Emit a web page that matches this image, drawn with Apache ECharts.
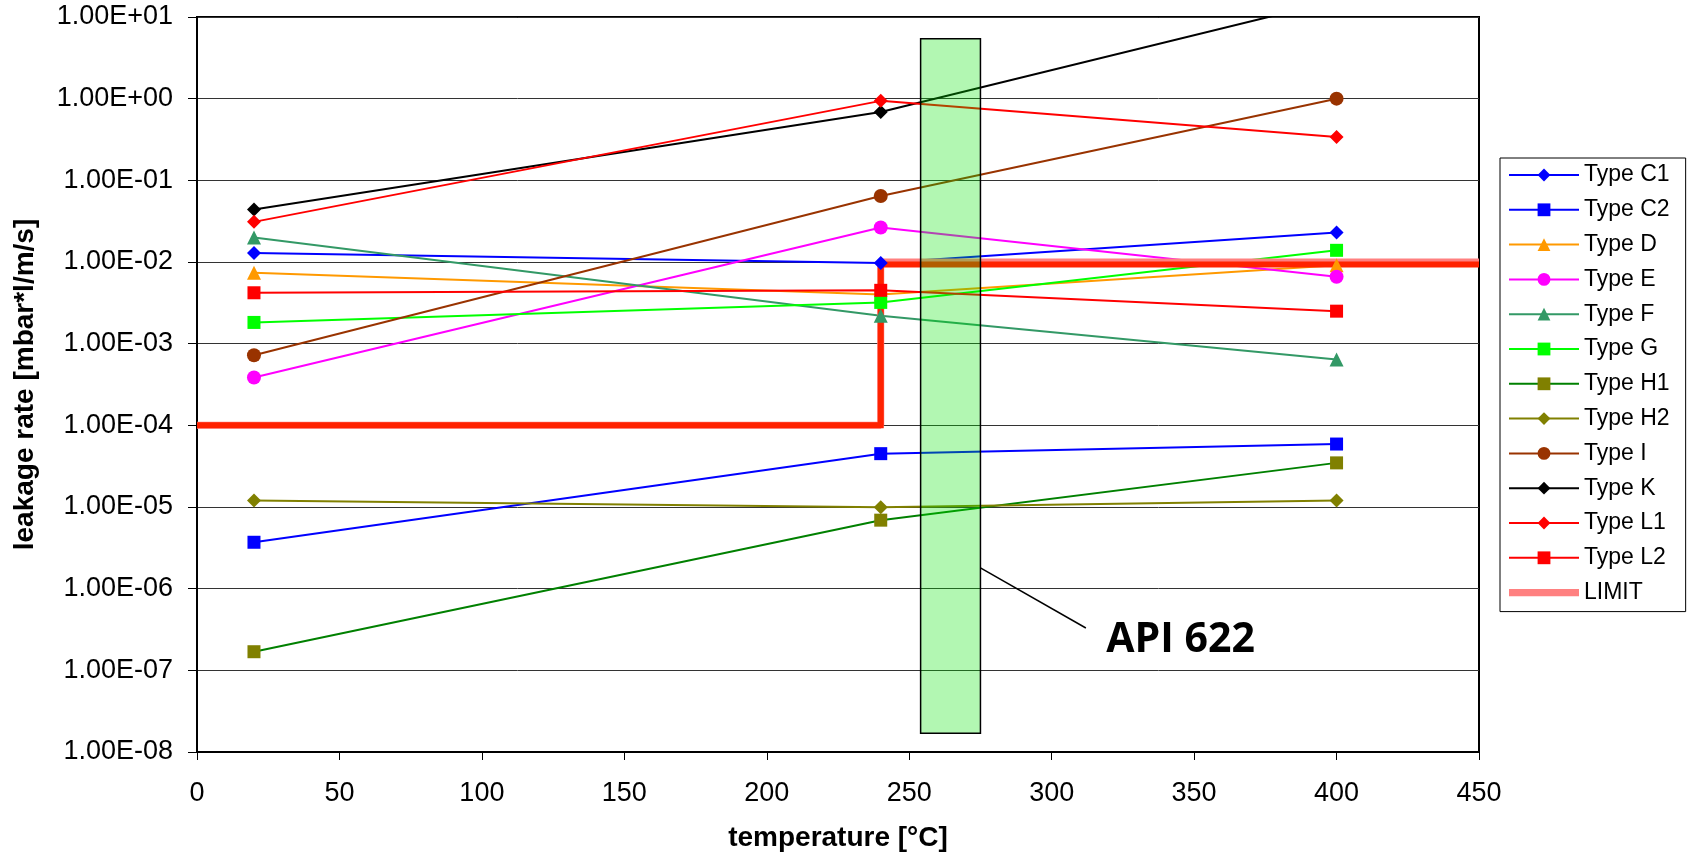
<!DOCTYPE html>
<html>
<head>
<meta charset="utf-8">
<script src="https://cdn.jsdelivr.net/npm/echarts@6/dist/echarts.min.js"></script>
<style>
html, body { margin: 0; padding: 0; background: #fff; }
#chart { width: 1689px; height: 859px; }
</style>
</head>
<body>
<div id="chart"></div>
<script>
// temperatures [°C] and leakage rates [mbar*l/m/s]
var temps = [20, 240, 400];
var typeC1 = [0.0129, 0.0097, 0.023];
var typeC2 = [3.7e-6, 4.5e-5, 5.9e-5];
var typeD = [0.0074, 0.0040, 0.0091];
var typeE = [0.000386, 0.0265, 0.0066];
var typeF = [0.020, 0.0022, 0.00064];
var typeG = [0.00182, 0.0032, 0.0139];
var typeH1 = [1.69e-7, 6.9e-6, 3.47e-5];
var typeH2 = [1.2e-5, 9.9e-6, 1.2e-5];
var typeI = [0.00072, 0.0644, 1.0];
var typeK = [0.044, 0.687, 16];
var typeL1 = [0.031, 0.94, 0.34];
var typeL2 = [0.0042, 0.0045, 0.0025];

// limit (legend series) and the red step drawn over it
var limitT = [0, 240, 240, 450];
var limitV = [1e-4, 1e-4, 1e-2, 1e-2];
var stepV = [1e-4, 1e-4, 0.0093, 0.0093];

// API 622 band: temperature range and rate range
var apiBand = [254, 275];
var apiRange = [1.7e-8, 5.4];
var apiLeader = [275, 1.8e-6, 312, 3.3e-7];
var apiLabelAt = [319, 2.35e-7];

var xTicks = [0, 50, 100, 150, 200, 250, 300, 350, 400, 450];
var yTickLabels = ['1.00E-08', '1.00E-07', '1.00E-06', '1.00E-05', '1.00E-04',
    '1.00E-03', '1.00E-02', '1.00E-01', '1.00E+00', '1.00E+01'];

var FONT = '"Liberation Sans", Arial, sans-serif';

function pts(xs, ys) {
    var out = [];
    for (var i = 0; i < xs.length; i++) out.push([xs[i], ys[i]]);
    return out;
}

function typeSeries(name, vals, lineColor, symbol, size, markColor) {
    return {
        name: name,
        type: 'line',
        data: pts(temps, vals),
        symbol: symbol,
        symbolSize: size,
        lineStyle: { color: lineColor, width: 2 },
        itemStyle: { color: markColor || lineColor },
        clip: true
    };
}

var chart = echarts.init(document.getElementById('chart'));

var option = {
    animation: false,
    backgroundColor: '#fff',
    grid: {
        left: 197, right: 210, top: 17, bottom: 107,
        show: true, borderColor: '#000', borderWidth: 2
    },
    legend: {
        orient: 'vertical',
        left: 1500, top: 158,
        padding: [5, 16, 7, 8],
        itemGap: 10.8,
        itemWidth: 70,
        itemHeight: 16,
        borderColor: '#000',
        borderWidth: 1,
        selectedMode: false,
        textStyle: { fontFamily: FONT, fontSize: 23, color: '#000', lineHeight: 24 },
        data: ['Type C1', 'Type C2', 'Type D', 'Type E', 'Type F', 'Type G',
            'Type H1', 'Type H2', 'Type I', 'Type K', 'Type L1', 'Type L2',
            { name: 'LIMIT', icon: 'path://M0,0L78,0L78,8L0,8Z', itemStyle: { color: '#FF8080' } }]
    },
    xAxis: {
        type: 'value',
        min: 0, max: 450, interval: 50,
        name: 'temperature [°C]',
        nameLocation: 'middle',
        nameGap: 72,
        nameTextStyle: { fontFamily: FONT, fontSize: 28, fontWeight: 'bold', color: '#000' },
        axisLine: { lineStyle: { color: '#000', width: 2 } },
        axisTick: { length: 8, lineStyle: { color: '#000' } },
        axisLabel: {
            fontFamily: FONT, fontSize: 27, color: '#000', margin: 28,
            formatter: function (v) { return xTicks.indexOf(v) >= 0 ? String(v) : ''; }
        },
        splitLine: { show: false }
    },
    yAxis: {
        type: 'log',
        logBase: 10,
        min: 1e-8, max: 10,
        name: 'leakage rate [mbar*l/m/s]',
        nameLocation: 'middle',
        nameGap: 158,
        nameTextStyle: { fontFamily: FONT, fontSize: 28, fontWeight: 'bold', color: '#000' },
        axisLine: { show: true, lineStyle: { color: '#000', width: 2 } },
        axisTick: { length: 9, lineStyle: { color: '#000' } },
        axisLabel: {
            fontFamily: FONT, fontSize: 27, color: '#000', margin: 24,
            formatter: function (v) {
                var e = Math.round(Math.log(v) / Math.LN10);
                return yTickLabels[e + 8] || '';
            }
        },
        splitLine: { show: true, lineStyle: { color: '#333', width: 1 } }
    },
    series: [
        typeSeries('Type C1', typeC1, '#0000FF', 'diamond', 14),
        typeSeries('Type C2', typeC2, '#0000FF', 'rect', 13),
        typeSeries('Type D', typeD, '#FF9900', 'triangle', 14),
        typeSeries('Type E', typeE, '#FF00FF', 'circle', 14),
        typeSeries('Type F', typeF, '#339966', 'triangle', 14),
        typeSeries('Type G', typeG, '#00FF00', 'rect', 13),
        typeSeries('Type H1', typeH1, '#008000', 'rect', 13, '#808000'),
        typeSeries('Type H2', typeH2, '#808000', 'diamond', 14),
        typeSeries('Type I', typeI, '#993300', 'circle', 14),
        typeSeries('Type K', typeK, '#000000', 'diamond', 14),
        typeSeries('Type L1', typeL1, '#FF0000', 'diamond', 14),
        typeSeries('Type L2', typeL2, '#FF0000', 'rect', 13),
        {
            name: 'LIMIT',
            type: 'line',
            data: pts(limitT, limitV),
            symbol: 'none',
            clip: false,
            lineStyle: { color: '#FF8080', width: 7 },
            itemStyle: { color: '#FF8080' }
        },
        {
            name: 'limit step',
            type: 'line',
            data: pts(limitT, stepV),
            symbol: 'none',
            lineStyle: { color: '#FF2200', width: 6, join: 'miter' },
            itemStyle: { color: '#FF2200' }
        },
        {
            name: 'API 622',
            type: 'custom',
            z: 5,
            data: [[apiBand[0], apiBand[1], apiRange[0], apiRange[1]]],
            encode: { x: [0, 1], y: [2, 3] },
            renderItem: function (params, api) {
                var a = api.coord([api.value(0), api.value(3)]);
                var b = api.coord([api.value(1), api.value(2)]);
                return {
                    type: 'rect',
                    shape: { x: a[0], y: a[1], width: b[0] - a[0], height: b[1] - a[1] },
                    style: { fill: 'rgba(0,230,0,0.3)', stroke: '#000', lineWidth: 1.5 }
                };
            },
            markLine: {
                silent: true,
                symbol: ['none', 'none'],
                label: { show: false },
                lineStyle: { color: '#000', width: 1.5, type: 'solid' },
                data: [[{ coord: [apiLeader[0], apiLeader[1]] }, { coord: [apiLeader[2], apiLeader[3]] }]]
            },
            markPoint: {
                silent: true,
                symbol: 'circle',
                symbolSize: 1,
                itemStyle: { color: 'rgba(0,0,0,0)' },
                label: {
                    show: true, position: 'right', distance: 0,
                    formatter: 'API 622', color: '#000',
                    fontFamily: '"Open Sans", sans-serif', fontWeight: 'bold', fontSize: 41
                },
                data: [{ coord: apiLabelAt }]
            }
        }
    ]
};

chart.setOption(option);
</script>
</body>
</html>
